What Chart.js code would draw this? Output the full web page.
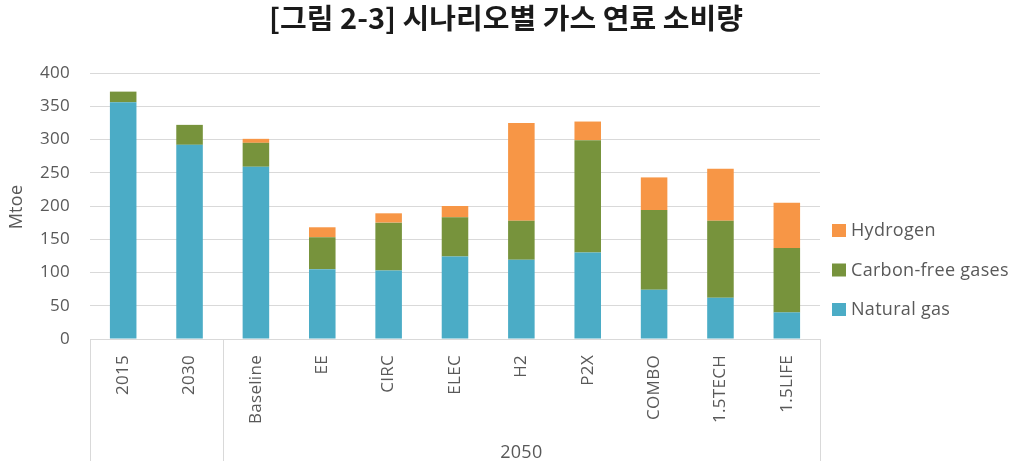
<!DOCTYPE html>
<html><head><meta charset="utf-8">
<script src="https://cdn.jsdelivr.net/npm/chart.js@4.4.0/dist/chart.umd.min.js"></script>
<style>html,body{margin:0;padding:0;background:#fff;}#wrap{width:1017px;height:461px;position:relative;}</style>
</head><body><div id="wrap"><canvas id="c" width="1017" height="461"></canvas></div>
<script>
const title = "[그림 2-3] 시나리오별 가스 연료 소비량";
const categories = ["2015","2030","Baseline","EE","CIRC","ELEC","H2","P2X","COMBO","1.5TECH","1.5LIFE"];
const groupLabel = "2050";
const groupStart = 2; // first category index of the 2050 group
const naturalGas = [356,292,259,105,103,124,119,130,74,62,40];
const carbonFree = [16,30,36,48,72,59,59,169,120,116,97];
const hydrogen   = [0,0,6,15,14,17,147,28,49,78,68];
const yTicks = [0,50,100,150,200,250,300,350,400];
const colors = {ng:"#4BACC6", cf:"#77933C", h2:"#F79646"};
const FONT = "'Open Sans', 'Noto Sans', sans-serif";
const textColor = "#595959";

const extras = {
  id:'extras',
  beforeDraw(chart){ chart.ctx.letterSpacing = "0.3px"; },
  afterDraw(chart){
    const ctx = chart.ctx, ca = chart.chartArea, x = chart.scales.x;
    ctx.save();
    // title (slightly condensed to match the original face)
    ctx.fillStyle = "#1a1a1a";
    ctx.font = "bold 28px 'Noto Sans CJK KR', sans-serif";
    ctx.textAlign = "center"; ctx.textBaseline = "middle";
    ctx.letterSpacing = "0px";
    const w = ctx.measureText(title).width;
    ctx.save();
    ctx.translate(506, 18);
    ctx.scale(474 / w, 1);
    ctx.fillText(title, 0, 0);
    ctx.restore();
    ctx.letterSpacing = "0.3px";
    // axis title
    ctx.save();
    ctx.translate(17, 207); ctx.rotate(-Math.PI/2);
    ctx.fillStyle = textColor; ctx.font = "18px " + FONT;
    ctx.fillText("Mtoe", 0, 0);
    ctx.restore();
    // group separator lines
    ctx.strokeStyle = "#d9d9d9"; ctx.lineWidth = 1;
    const half = (x.getPixelForValue(1) - x.getPixelForValue(0))/2;
    const bx = [ca.left, x.getPixelForValue(groupStart) - half, ca.right];
    bx.forEach(v=>{ ctx.beginPath(); ctx.moveTo(Math.round(v)+0.5, ca.bottom); ctx.lineTo(Math.round(v)+0.5, chart.height); ctx.stroke(); });
    // group label
    ctx.fillStyle = textColor; ctx.font = "18px " + FONT;
    ctx.textAlign = "center";
    const gx = (x.getPixelForValue(groupStart) - half + ca.right)/2;
    ctx.fillText(groupLabel, gx, 453);
    // legend (reverse order)
    const ds = chart.data.datasets.slice().reverse();
    ctx.textAlign = "left"; ctx.font = "18px " + FONT;
    ds.forEach((d,i)=>{
      const y = 230 + i*39.5;
      ctx.fillStyle = d.backgroundColor;
      ctx.fillRect(832, y-6, 14, 13);
      ctx.fillStyle = textColor;
      ctx.fillText(d.label, 851, y+1);
    });
    ctx.restore();
  }
};

new Chart(document.getElementById('c'), {
  type:'bar',
  data:{
    labels: categories,
    datasets:[
      {label:"Natural gas", data:naturalGas, backgroundColor:colors.ng},
      {label:"Carbon-free gases", data:carbonFree, backgroundColor:colors.cf},
      {label:"Hydrogen", data:hydrogen, backgroundColor:colors.h2}
    ]
  },
  options:{
    responsive:false, animation:false,
    layout:{padding:{top:73, right:197, left:0, bottom:0}},
    datasets:{bar:{barPercentage:0.4, categoryPercentage:1.0}},
    plugins:{legend:{display:false}, tooltip:{enabled:false}, title:{display:false}},
    scales:{
      x:{stacked:true,
        grid:{display:false}, border:{display:false},
        ticks:{color:textColor, font:{family:FONT, size:17}, minRotation:90, maxRotation:90, padding:8},
        afterFit(s){ s.height = 122; }
      },
      y:{stacked:true, min:0, max:400,
        afterBuildTicks(s){ s.ticks = yTicks.map(v=>({value:v})); },
        grid:{color:"#d9d9d9", drawTicks:false}, border:{display:false},
        ticks:{color:textColor, font:{family:FONT, size:17}, padding:20},
        afterFit(s){ s.width = 90; }
      }
    }
  },
  plugins:[extras]
});
</script></body></html>
